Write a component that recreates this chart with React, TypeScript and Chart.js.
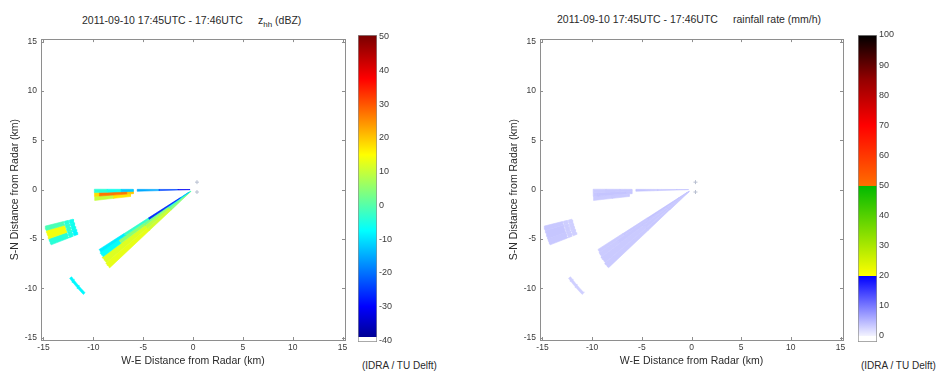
import React, { useEffect, useRef } from "react";
import { Chart, registerables } from "chart.js";

Chart.register(...registerables);

// ---------- text / ticks ----------
const timeLabel = "2011-09-10 17:45UTC - 17:46UTC";
const xAxisTitle = "W-E Distance from Radar (km)";
const yAxisTitle = "S-N Distance from Radar (km)";
const creditLabel = "(IDRA / TU Delft)";
const axisTicks = [-15, -10, -5, 0, 5, 10, 15];
const zhhBarTicks = [-40, -30, -20, -10, 0, 10, 20, 30, 40, 50];
const rainBarTicks = [0, 10, 20, 30, 40, 50, 60, 70, 80, 90, 100];

// ---------- radar cells (azimuth in degrees clockwise from north, range in km) ----------
const cellAzStart = [
  268.2, 268.2, 268.2, 268.2, 268.2, 268.2,
  266.0, 266.0, 266.0, 263.6, 263.6,
  235.5, 235.5, 235.5, 235.5,
  233.0, 233.0, 233.0, 233.0,
  229.5, 229.5, 229.5,
  226.5, 226.5, 226.5,
  254.3, 254.3, 254.3, 251.0, 251.0, 251.0, 248.5, 248.5, 248.5,
  226.0,
];
const cellAzEnd = [
  270.2, 270.2, 270.2, 270.2, 270.2, 270.2,
  268.2, 268.2, 268.2, 266.0, 266.0,
  237.2, 237.2, 237.2, 237.2,
  235.5, 235.5, 235.5, 235.5,
  233.0, 233.0, 233.0,
  229.5, 229.5, 229.5,
  256.0, 256.0, 256.0, 254.3, 254.3, 254.3, 251.0, 251.0, 251.0,
  234.0,
];
const cellRangeStart = [
  0.3, 1.5, 3.4, 6.0, 7.2, 8.6,
  6.0, 6.6, 9.4, 6.3, 8.0,
  0.5, 1.5, 5.3, 8.2,
  0.3, 3.0, 6.0, 9.0,
  0.3, 3.0, 6.0,
  0.3, 3.0, 6.0,
  12.4, 12.9, 13.4, 12.4, 12.9, 13.4, 12.4, 12.9, 13.4,
  15.05,
];
const cellRangeEnd = [
  1.5, 3.4, 5.6, 7.2, 8.6, 9.9,
  6.6, 9.4, 9.9, 8.0, 9.9,
  1.5, 5.3, 8.2, 11.2,
  3.0, 6.0, 9.0, 11.3,
  3.0, 6.0, 11.4,
  3.0, 6.0, 11.5,
  12.8, 13.3, 15.3, 12.8, 13.3, 15.3, 12.8, 13.3, 15.3,
  15.3,
];
// reflectivity z_hh (dBZ)
const zhhValues = [
  -31, -24, -15, -12, -6, -4,
  20, 27, 18, 17, 10,
  -14, -26, -3, -9,
  -5, 3, 5, -7,
  3, 9, 12,
  5, 11, 13,
  -6, -4, -1, -6, -3, 14, -8, -5, -4,
  -8,
];
// rainfall rate (mm/h)
const rainValues = [
  4.0, 3.8, 3.9, 3.6, 3.5, 3.4,
  3.6, 3.9, 3.6, 3.4, 3.3,
  3.8, 4.0, 3.5, 3.3,
  3.6, 3.5, 3.5, 3.3,
  3.5, 3.5, 3.4,
  3.5, 3.5, 3.4,
  3.0, 3.1, 3.5, 3.0, 3.2, 3.7, 3.0, 3.1, 3.5,
  3.0,
];
// radar site markers (km)
const siteMarkX = [0.4, 0.4];
const siteMarkY = [0.75, -0.25];

// ---------- colormaps ----------
type Stop = [number, [number, number, number]];
const WHITE: [number, number, number] = [255, 255, 255];
const zhhMin = -40.5;
const zhhMax = 50.5;
const zhhStops: Stop[] = [
  [-40.5, WHITE], [-38.9, WHITE], [-38.9, [0, 0, 150]], [-30, [0, 0, 255]],
  [-7.5, [0, 255, 255]], [15, [255, 255, 0]], [37.5, [255, 0, 0]], [50.5, [120, 0, 0]],
];
const rainMin = -2;
const rainMax = 100;
const rainStops: Stop[] = [
  [-2, WHITE], [0.1, WHITE], [0.1, [242, 242, 255]], [19.9, [0, 0, 255]],
  [20, [255, 255, 0]], [49.9, [0, 185, 0]], [50, [255, 110, 0]], [70, [255, 0, 0]],
  [85, [150, 0, 0]], [100, [0, 0, 0]],
];

function rgb(c: number[]): string {
  return `rgb(${Math.round(c[0])},${Math.round(c[1])},${Math.round(c[2])})`;
}
function colorAt(stops: Stop[], v: number): string {
  if (v <= stops[0][0]) return rgb(stops[0][1]);
  for (let i = 1; i < stops.length; i++) {
    const [v1, c1] = stops[i];
    const [v0, c0] = stops[i - 1];
    if (v <= v1) {
      const t = v1 === v0 ? 1 : (v - v0) / (v1 - v0);
      return rgb([0, 1, 2].map((k) => c0[k] + (c1[k] - c0[k]) * t));
    }
  }
  return rgb(stops[stops.length - 1][1]);
}

// ---------- geometry ----------
function polar(r: number, az: number) {
  const a = (az * Math.PI) / 180;
  return { x: r * Math.sin(a), y: r * Math.cos(a) };
}
function cellPolygon(az0: number, az1: number, r0: number, r1: number) {
  const n = Math.max(2, Math.ceil(Math.abs(az1 - az0) / 0.5) + 1);
  const pts: { x: number; y: number }[] = [];
  for (let i = 0; i < n; i++) pts.push(polar(r1, az0 + ((az1 - az0) * i) / (n - 1)));
  for (let i = n - 1; i >= 0; i--) pts.push(polar(r0, az0 + ((az1 - az0) * i) / (n - 1)));
  pts.push(pts[0]);
  return pts;
}

const FONT = "'Liberation Sans', Arial, Helvetica, sans-serif";
const FRAME = "#8e8e8e";
const TICK_COLOR = "#3a3a3a";

const tickMarkPlugin = {
  id: "matlabTicks",
  afterDatasetsDraw(chart: any) {
    const { ctx, chartArea, scales } = chart;
    const { left, right, top, bottom } = chartArea;
    ctx.save();
    ctx.strokeStyle = FRAME;
    ctx.lineWidth = 1;
    ctx.beginPath();
    for (const t of scales.x.ticks) {
      const px = Math.round(scales.x.getPixelForValue(t.value)) + 0.5;
      ctx.moveTo(px, bottom); ctx.lineTo(px, bottom - 3);
      ctx.moveTo(px, top); ctx.lineTo(px, top + 3);
    }
    for (const t of scales.y.ticks) {
      const py = Math.round(scales.y.getPixelForValue(t.value)) + 0.5;
      ctx.moveTo(left, py); ctx.lineTo(left + 3, py);
      ctx.moveTo(right, py); ctx.lineTo(right - 3, py);
    }
    ctx.stroke();
    ctx.restore();
  },
};

const noGrid = { display: false, drawTicks: false, drawOnChartArea: false, tickLength: 0 };
const frameBorder = { display: true, color: FRAME, width: 1 };

function mainConfig(values: number[], stops: Stop[]): any {
  const datasets: any[] = values.map((v, i) => {
    const col = colorAt(stops, v);
    return {
      data: cellPolygon(cellAzStart[i], cellAzEnd[i], cellRangeStart[i], cellRangeEnd[i]),
      showLine: true,
      fill: "shape",
      backgroundColor: col,
      borderColor: col,
      borderWidth: 0.6,
      pointRadius: 0,
      pointHoverRadius: 0,
    };
  });
  datasets.push({
    data: siteMarkX.map((x, i) => ({ x, y: siteMarkY[i] })),
    showLine: false,
    pointStyle: "cross",
    pointRadius: 2,
    borderColor: "#b8bfd0",
    borderWidth: 1,
  });
  const tickFont = { size: 8.5, family: FONT };
  const titleFont = { size: 10.5, family: FONT };
  return {
    type: "scatter",
    data: { datasets },
    plugins: [tickMarkPlugin],
    options: {
      animation: false,
      responsive: false,
      devicePixelRatio: 1,
      events: [],
      layout: { padding: { top: 5, right: 10, left: 0, bottom: 0 } },
      plugins: { legend: { display: false }, tooltip: { enabled: false } },
      scales: {
        x: {
          type: "linear",
          position: "bottom",
          min: -15.25,
          max: 15.25,
          afterBuildTicks: (s: any) => { s.ticks = axisTicks.map((v) => ({ value: v })); },
          afterFit: (s: any) => { s.height = 31; },
          grid: noGrid,
          border: frameBorder,
          ticks: { font: tickFont, color: TICK_COLOR, padding: 3, maxRotation: 0, autoSkip: false, callback: (v: any) => String(v) },
          title: { display: true, text: xAxisTitle, font: titleFont, color: "#2a2a2a", padding: { top: 0, bottom: 4 } },
        },
        y: {
          type: "linear",
          position: "left",
          min: -15.25,
          max: 15.25,
          afterBuildTicks: (s: any) => { s.ticks = axisTicks.map((v) => ({ value: v })); },
          afterFit: (s: any) => { s.width = 36; },
          grid: noGrid,
          border: frameBorder,
          ticks: { font: tickFont, color: TICK_COLOR, padding: 4, autoSkip: false, callback: (v: any) => String(v) },
          title: { display: true, text: yAxisTitle, font: titleFont, color: "#2a2a2a", padding: { top: 4, bottom: 0 } },
        },
        xTop: {
          type: "linear",
          position: "top",
          min: -15.25,
          max: 15.25,
          afterFit: (s: any) => { s.height = 0; },
          grid: noGrid,
          border: frameBorder,
          ticks: { display: false },
        },
        yRight: {
          type: "linear",
          position: "right",
          min: -15.25,
          max: 15.25,
          afterFit: (s: any) => { s.width = 0; },
          grid: noGrid,
          border: frameBorder,
          ticks: { display: false },
        },
      },
    },
  };
}

function barConfig(min: number, max: number, stops: Stop[], ticks: number[]): any {
  return {
    type: "bar",
    data: {
      labels: [""],
      datasets: [
        {
          data: [[min, max]],
          backgroundColor: (c: any) => {
            const chart = c.chart;
            if (!chart.chartArea) return "transparent";
            const ys = chart.scales.y;
            const g = chart.ctx.createLinearGradient(0, ys.getPixelForValue(min), 0, ys.getPixelForValue(max));
            stops.forEach(([v, col]) => g.addColorStop(Math.min(1, Math.max(0, (v - min) / (max - min))), rgb(col)));
            return g;
          },
          borderColor: FRAME,
          borderWidth: 1,
          borderSkipped: false,
          barPercentage: 1,
          categoryPercentage: 1,
        },
      ],
    },
    options: {
      animation: false,
      responsive: false,
      devicePixelRatio: 1,
      events: [],
      layout: { padding: { top: 10, bottom: 10, left: 0, right: 0 } },
      plugins: { legend: { display: false }, tooltip: { enabled: false } },
      scales: {
        x: { display: false },
        y: {
          position: "right",
          min,
          max,
          afterBuildTicks: (s: any) => { s.ticks = ticks.map((v) => ({ value: v })); },
          afterFit: (s: any) => { s.width = 41; },
          grid: noGrid,
          border: { display: false },
          ticks: { font: { size: 9, family: FONT }, color: TICK_COLOR, padding: 2, autoSkip: false, callback: (v: any) => String(v) },
        },
      },
    },
  };
}

function ChartCanvas(props: { left: number; top: number; width: number; height: number; make: () => any }) {
  const ref = useRef<HTMLCanvasElement | null>(null);
  useEffect(() => {
    const chart = new Chart(ref.current as HTMLCanvasElement, props.make());
    return () => chart.destroy();
  }, []);
  return (
    <canvas
      ref={ref}
      width={props.width}
      height={props.height}
      style={{ position: "absolute", left: props.left, top: props.top, width: props.width, height: props.height }}
    />
  );
}

const textStyle: React.CSSProperties = {
  position: "absolute",
  fontFamily: FONT,
  fontSize: 10.5,
  lineHeight: "12px",
  color: "#2a2a2a",
  whiteSpace: "pre",
};

export default function App() {
  return (
    <div style={{ position: "absolute", left: 0, top: 0, width: 936, height: 371, overflow: "hidden", background: "#fff" }}>
      {/* left panel: reflectivity */}
      <div style={{ ...textStyle, left: 82, top: 14 }}>{timeLabel}</div>
      <div style={{ ...textStyle, left: 258, top: 14 }}>
        z<sub style={{ fontSize: 8, verticalAlign: "-3px", lineHeight: 0 }}>hh</sub> (dBZ)
      </div>
      <ChartCanvas left={5} top={30} width={350} height={341} make={() => mainConfig(zhhValues, zhhStops)} />
      <ChartCanvas left={358} top={25} width={60} height={327} make={() => barConfig(zhhMin, zhhMax, zhhStops, zhhBarTicks)} />
      <div style={{ ...textStyle, fontSize: 10, left: 362, top: 360 }}>{creditLabel}</div>

      {/* right panel: rainfall rate */}
      <div style={{ ...textStyle, left: 557, top: 13 }}>{timeLabel}</div>
      <div style={{ ...textStyle, left: 733, top: 13 }}>rainfall rate (mm/h)</div>
      <ChartCanvas left={504} top={30} width={349} height={341} make={() => mainConfig(rainValues, rainStops)} />
      <ChartCanvas left={858} top={25} width={60} height={327} make={() => barConfig(rainMin, rainMax, rainStops, rainBarTicks)} />
      <div style={{ ...textStyle, fontSize: 10, left: 861, top: 360 }}>{creditLabel}</div>
    </div>
  );
}
